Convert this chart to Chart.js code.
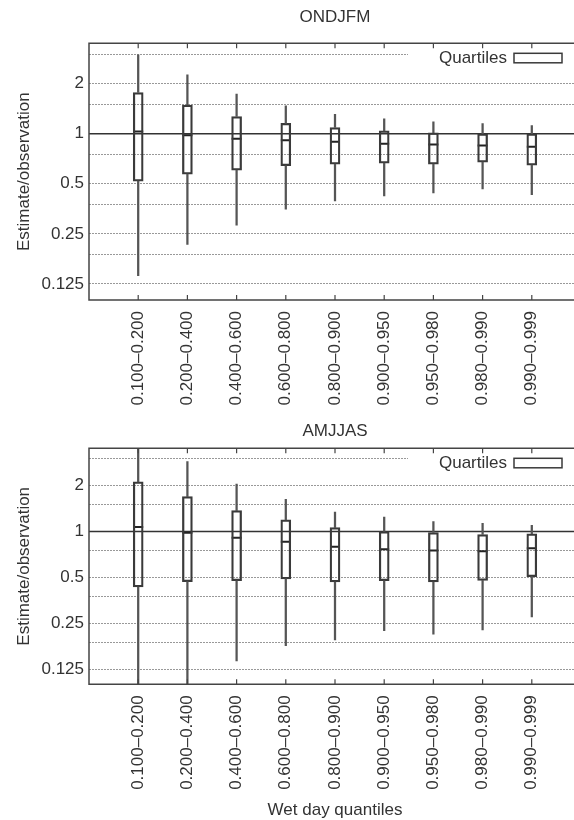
<!DOCTYPE html>
<html><head><meta charset="utf-8">
<script src="https://cdn.jsdelivr.net/npm/chart.js@4.4.0/dist/chart.umd.min.js"></script>
<style>
html,body{margin:0;padding:0;background:#fff;overflow:hidden;width:574px;height:820px;position:relative;}
.wrap{position:absolute;left:0;}
canvas{display:block;}
</style></head><body>
<div class="wrap" style="top:0"><canvas id="c1" width="620" height="410"></canvas></div>
<div class="wrap" style="top:410px"><canvas id="c2" width="620" height="420"></canvas></div>
<script>
const categories = ['0.100\u20130.200','0.200\u20130.400','0.400\u20130.600','0.600\u20130.800','0.800\u20130.900','0.900\u20130.950','0.950\u20130.980','0.980\u20130.990','0.990\u20130.999'];
const gridValues = [3, 2, 1.5, 1, 0.75, 0.5, 0.375, 0.25, 0.1875, 0.125];
const tickLabels = [2, 1, 0.5, 0.25, 0.125];

// ONDJFM (top panel)
const ondjfmMin = [0.14, 0.216, 0.282, 0.352, 0.395, 0.423, 0.441, 0.466, 0.43];
const ondjfmQ1  = [0.519, 0.572, 0.604, 0.642, 0.657, 0.666, 0.657, 0.675, 0.648];
const ondjfmMed = [1.03, 0.978, 0.933, 0.913, 0.895, 0.871, 0.863, 0.851, 0.835];
const ondjfmQ3  = [1.77, 1.49, 1.27, 1.155, 1.09, 1.04, 1.014, 1.0, 1.0];
const ondjfmMax = [2.98, 2.26, 1.73, 1.47, 1.31, 1.23, 1.18, 1.15, 1.12];

// AMJJAS (bottom panel)
const amjjasMin = [0.08, 0.08, 0.142, 0.179, 0.195, 0.224, 0.213, 0.227, 0.276];
const amjjasQ1  = [0.433, 0.47, 0.476, 0.489, 0.467, 0.476, 0.467, 0.479, 0.506];
const amjjasMed = [1.07, 0.98, 0.909, 0.856, 0.793, 0.765, 0.75, 0.742, 0.777];
const amjjasQ3  = [2.11, 1.69, 1.37, 1.19, 1.06, 1.0, 0.985, 0.955, 0.966];
const amjjasMax = [4.0, 2.87, 2.04, 1.62, 1.34, 1.24, 1.16, 1.13, 1.095];

Chart.defaults.font.family = "'Liberation Sans', Arial, sans-serif";
Chart.defaults.color = '#333';

const INK = '#3a3a3a';

function buildDatasets(mins, q1s, meds, q3s, maxs) {
  const pts = (lo, hi) => categories.map((c, i) => ({x: i + 1, y: [lo[i], hi[i]]}));
  const whisker = {type: 'bar', backgroundColor: '#555', borderWidth: 0, barThickness: 1.6, grouped: false};
  return [
    Object.assign({label: 'lower whisker', data: pts(mins, q1s)}, whisker),
    Object.assign({label: 'upper whisker', data: pts(q3s, maxs)}, whisker),
    {type: 'bar', label: 'Quartiles', data: pts(q1s, q3s), backgroundColor: 'rgba(0,0,0,0)',
     borderColor: INK, borderWidth: 1.6, barThickness: 10, grouped: false, borderSkipped: false},
    {type: 'scatter', label: 'Median', data: categories.map((c, i) => ({x: i + 1, y: meds[i]})),
     pointStyle: 'line', radius: 5, borderWidth: 2, borderColor: '#222', showLine: false}
  ];
}

const decor = {
  id: 'decor',
  beforeDatasetsDraw(chart) {
    const {ctx, chartArea: a, scales} = chart;
    const y1 = scales.y.getPixelForValue(1);
    ctx.save();
    ctx.fillStyle = '#fff';
    ctx.fillRect(a.right - 173, a.top + 2, 173, 24);
    ctx.strokeStyle = '#333';
    ctx.lineWidth = 1.6;
    ctx.beginPath(); ctx.moveTo(a.left, y1); ctx.lineTo(a.right, y1); ctx.stroke();
    ctx.restore();
  },
  afterDatasetsDraw(chart) {
    const {ctx, chartArea: a, scales} = chart;
    ctx.save();
    ctx.strokeStyle = '#444';
    ctx.lineWidth = 1.5;
    ctx.beginPath();
    ctx.moveTo(a.right, a.top); ctx.lineTo(a.left, a.top); ctx.lineTo(a.left, a.bottom); ctx.lineTo(a.right, a.bottom);
    ctx.stroke();
    ctx.lineWidth = 1.2;
    categories.forEach((c, i) => {
      const x = scales.x.getPixelForValue(i + 1);
      ctx.beginPath();
      ctx.moveTo(x, a.top); ctx.lineTo(x, a.top + 5);
      ctx.moveTo(x, a.bottom); ctx.lineTo(x, a.bottom - 5);
      ctx.stroke();
    });
    // legend
    ctx.fillStyle = '#333';
    ctx.font = "17px 'Liberation Sans', Arial, sans-serif";
    ctx.textAlign = 'right';
    ctx.textBaseline = 'middle';
    ctx.fillText('Quartiles', a.right - 74, a.top + 15);
    ctx.strokeStyle = INK;
    ctx.lineWidth = 1.5;
    ctx.strokeRect(a.right - 67, a.top + 10, 48, 9.5);
    ctx.restore();
  }
};

function makeChart(id, title, data, titlePad, xHeight, xTitle) {
  return new Chart(document.getElementById(id), {
    type: 'bar',
    data: {datasets: buildDatasets.apply(null, data)},
    plugins: [decor],
    options: {
      responsive: false, maintainAspectRatio: false, animation: false, events: [],
      layout: {padding: {left: 0, right: 39, top: 0, bottom: 0}},
      plugins: {
        legend: {display: false}, tooltip: {enabled: false},
        title: {display: true, text: title, fullSize: false, color: '#333',
                font: {size: 17, weight: 'normal'}, padding: titlePad}
      },
      scales: {
        x: {
          type: 'linear', min: 0, max: 10, offset: false,
          afterBuildTicks: s => { s.ticks = categories.map((c, i) => ({value: i + 1})); },
          ticks: {callback: v => categories[v - 1] || '', autoSkip: false, maxRotation: 90, minRotation: 90,
                  padding: 3, font: {size: 17}, color: '#333'},
          grid: {display: false},
          border: {display: false},
          title: xTitle ? {display: true, text: xTitle, color: '#333', font: {size: 17}, padding: {top: 0, bottom: 9.8}} : {display: false},
          afterFit: s => { s.height = xHeight; }
        },
        y: {
          type: 'logarithmic', min: 0.1, max: 3.5,
          afterBuildTicks: s => { s.ticks = gridValues.map(v => ({value: v})); },
          ticks: {callback: v => tickLabels.includes(v) ? String(v) : '', autoSkip: false, padding: 5,
                  font: {size: 17}, color: '#333'},
          grid: {color: '#999', lineWidth: 1, drawTicks: false},
          border: {display: false, dash: [2, 1]},
          title: {display: true, text: 'Estimate/observation', color: '#333', font: {size: 17}, padding: {top: 14, bottom: 0}},
          afterFit: s => { s.width = 89; }
        }
      }
    }
  });
}

makeChart('c1', 'ONDJFM', [ondjfmMin, ondjfmQ1, ondjfmMed, ondjfmQ3, ondjfmMax], {top: 7.3, bottom: 15.6}, 110, null);
makeChart('c2', 'AMJJAS', [amjjasMin, amjjasQ1, amjjasMed, amjjasQ3, amjjasMax], {top: 10.8, bottom: 7.1}, 145.7, 'Wet day quantiles');
</script>
</body></html>
